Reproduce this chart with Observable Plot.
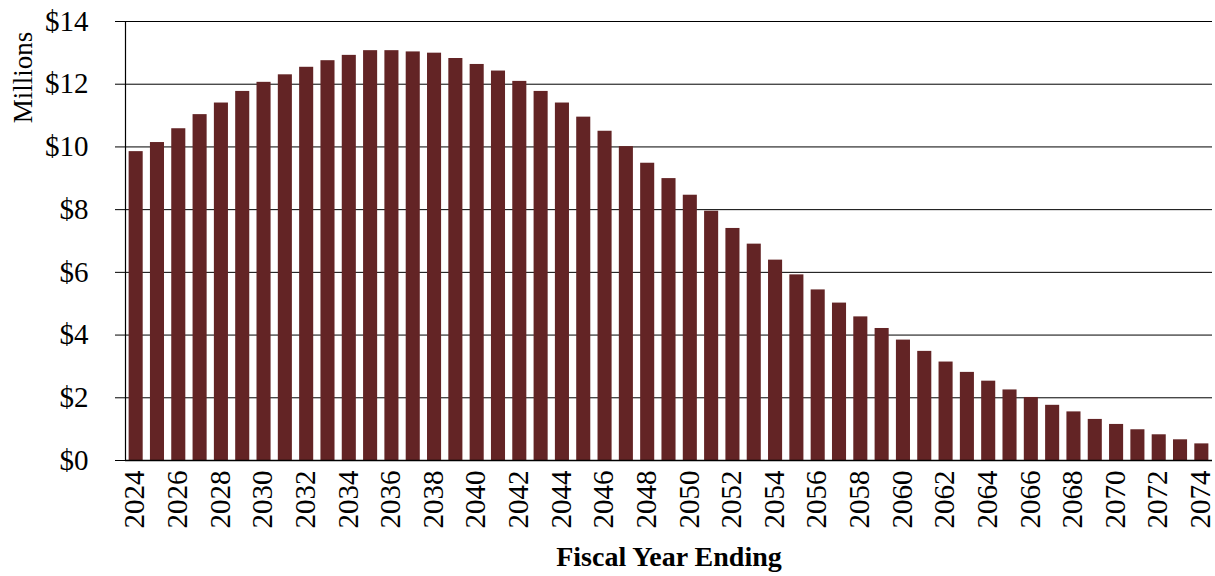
<!DOCTYPE html>
<html>
<head>
<meta charset="utf-8">
<script src="https://cdn.jsdelivr.net/npm/d3@7"></script>
<script src="https://cdn.jsdelivr.net/npm/@observablehq/plot@0.6"></script>
<style>
  html, body { margin: 0; padding: 0; background: #fff; }
  #chart svg { display: block; font-family: "Liberation Serif", "Times New Roman", serif; }
</style>
</head>
<body>
<div id="chart"></div>
<script>
const years = [2024,2025,2026,2027,2028,2029,2030,2031,2032,2033,2034,2035,2036,2037,2038,2039,
  2040,2041,2042,2043,2044,2045,2046,2047,2048,2049,2050,2051,2052,2053,2054,2055,2056,2057,
  2058,2059,2060,2061,2062,2063,2064,2065,2066,2067,2068,2069,2070,2071,2072,2073,2074];
const values = [9.85,10.14,10.58,11.03,11.40,11.77,12.06,12.30,12.54,12.75,12.92,13.07,13.07,
  13.03,12.99,12.82,12.63,12.42,12.09,11.77,11.40,10.95,10.50,10.01,9.48,8.99,8.46,7.95,7.40,
  6.90,6.39,5.92,5.44,5.02,4.58,4.21,3.84,3.48,3.14,2.81,2.53,2.25,2.01,1.76,1.55,1.31,1.15,
  0.98,0.82,0.66,0.53];
const xTickLabels = [2024,2026,2028,2030,2032,2034,2036,2038,2040,2042,2044,2046,2048,2050,
  2052,2054,2056,2058,2060,2062,2064,2066,2068,2070,2072,2074];
const yTicks = [0,2,4,6,8,10,12,14];
const yLabel = "Millions";
const xLabel = "Fiscal Year Ending";
const barColor = "#632425";

const data = years.map((y, i) => ({year: y, value: values[i]}));

const chart = Plot.plot({
  width: 1215,
  height: 576,
  marginLeft: 125,
  marginRight: 3,
  marginTop: 21,
  marginBottom: 116,
  style: {fontFamily: '"Liberation Serif", "Times New Roman", serif', background: "#fff", overflow: "visible"},
  x: {type: "band", domain: years, paddingInner: 0.34, paddingOuter: 0.17, round: false},
  y: {domain: [0, 14]},
  marks: [
    Plot.gridY(yTicks, {stroke: "#000", strokeOpacity: 1, strokeWidth: 1}),
    Plot.barY(data, {x: "year", y: "value", fill: barColor}),
    Plot.ruleY([0], {stroke: "#000", strokeWidth: 1.5}),
    Plot.frame({anchor: "left", stroke: "#000", strokeWidth: 1.2}),
    Plot.axisY(yTicks, {
      tickSize: 10, tickPadding: 27, tickFormat: d => "$" + d,
      fontSize: 29, label: null, stroke: "#000"
    }),
    Plot.axisX(xTickLabels, {
      tickSize: 0, tickPadding: 10, tickRotate: -90, fontSize: 29, label: null,
      tickFormat: d => String(d), dx: -1
    }),
    Plot.text([yLabel], {
      frameAnchor: "top-left", rotate: -90, textAnchor: "middle", lineAnchor: "middle",
      dx: -102, dy: 56, fontSize: 27, fill: "#000"
    }),
    Plot.text([xLabel], {
      frameAnchor: "bottom", textAnchor: "middle", lineAnchor: "middle",
      dy: 97, fontSize: 28, fontWeight: "bold", fill: "#000"
    })
  ]
});
document.getElementById("chart").appendChild(chart);
</script>
</body>
</html>
